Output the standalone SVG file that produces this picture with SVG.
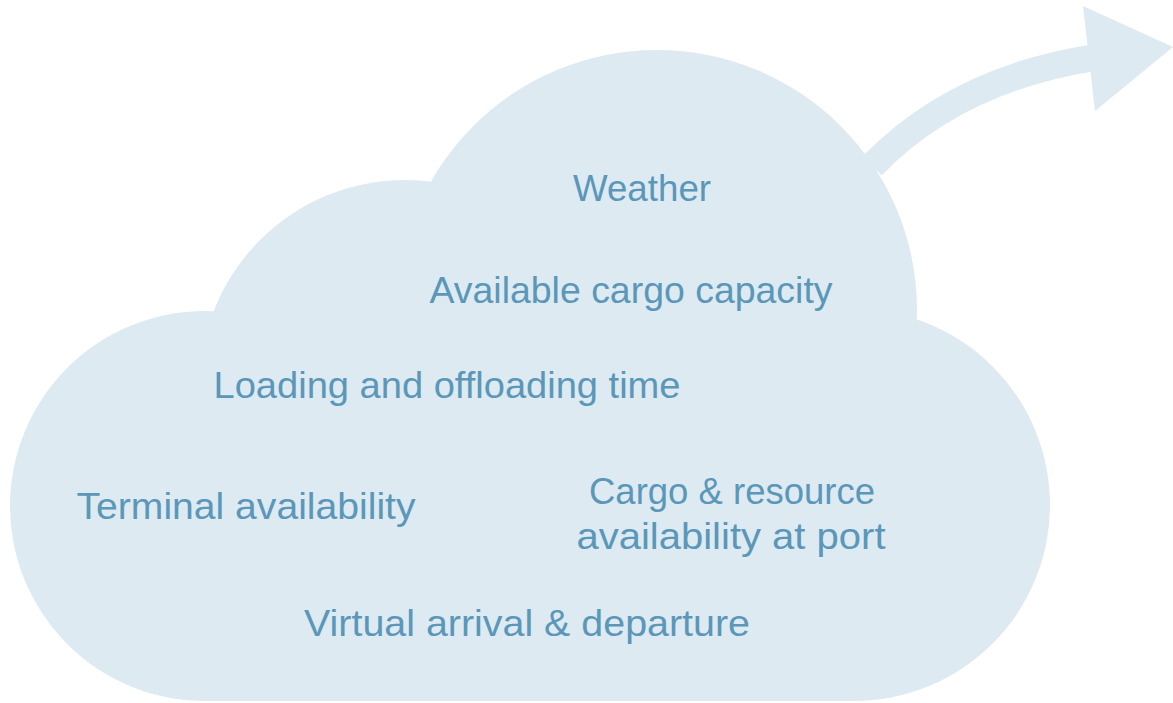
<svg xmlns="http://www.w3.org/2000/svg" width="1173" height="703" viewBox="0 0 1173 703">
  <style>
    .shape { fill: #deeaf1; }
    .shaft { fill: none; stroke: #deeaf1; stroke-width: 27; }
    .label { fill: #5a97b9; font-family: "Liberation Sans", Arial, sans-serif; font-size: 36px; text-anchor: middle; }
  </style>
  <rect width="1173" height="703" fill="#ffffff"/>

  <!-- outgoing arrow -->
  <g id="connectors">
    <path class="shaft" d="M872,166 Q955,80 1092,58"/>
    <polygon class="shape" points="1083,6 1173,47 1095,111"/>
  </g>

  <!-- cloud body built from overlapping lobes -->
  <g id="cloud">
    <circle class="shape" cx="205" cy="506" r="195"/>
    <circle class="shape" cx="405" cy="385" r="205"/>
    <circle class="shape" cx="657" cy="310" r="260"/>
    <circle class="shape" cx="854" cy="505" r="196"/>
    <rect class="shape" x="205" y="400" width="650" height="301"/>
  </g>

  <g id="weather"><text class="label" x="642" y="201" textLength="138" lengthAdjust="spacingAndGlyphs">Weather</text></g>
  <g id="cargo-capacity"><text class="label" x="631" y="303" textLength="403" lengthAdjust="spacingAndGlyphs">Available cargo capacity</text></g>
  <g id="loading-time"><text class="label" x="447" y="398" textLength="467" lengthAdjust="spacingAndGlyphs">Loading and offloading time</text></g>
  <g id="terminal"><text class="label" x="246" y="519" textLength="339" lengthAdjust="spacingAndGlyphs">Terminal availability</text></g>
  <g id="resources">
    <text class="label" x="732" y="504" textLength="286" lengthAdjust="spacingAndGlyphs">Cargo &amp; resource</text>
    <text class="label" x="731" y="549" textLength="309" lengthAdjust="spacingAndGlyphs">availability at port</text>
  </g>
  <g id="virtual-arrival"><text class="label" x="527" y="636" textLength="446" lengthAdjust="spacingAndGlyphs">Virtual arrival &amp; departure</text></g>
</svg>
